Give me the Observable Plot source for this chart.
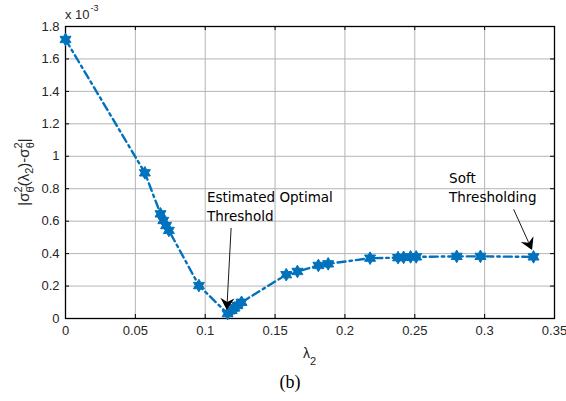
<!DOCTYPE html>
<html><head><meta charset="utf-8">
<script src="https://cdn.jsdelivr.net/npm/d3@7"></script>
<script src="https://cdn.jsdelivr.net/npm/@observablehq/plot@0.6"></script>
<style>
body{margin:0;background:#fff;}
#chart svg{display:block;}
#cap{width:566px;height:31px;font-family:"Liberation Serif","Times New Roman",serif;font-size:18px;line-height:24px;text-align:center;color:#000;position:relative;left:7px;}
</style>
</head><body>
<div id="chart"></div>
<div id="cap">(b)</div>
<script>
// data (y in units of 1e-3)
const lambda2 = [0, 0.0568, 0.068, 0.070, 0.072, 0.074, 0.0955, 0.116, 0.119, 0.121, 0.123, 0.126, 0.158, 0.166, 0.181, 0.188, 0.218, 0.238, 0.242, 0.247, 0.251, 0.280, 0.297, 0.335];
const absErr  = [1.72, 0.898, 0.645, 0.604, 0.573, 0.543, 0.203, 0.03, 0.05, 0.065, 0.08, 0.10, 0.27, 0.29, 0.327, 0.337, 0.372, 0.375, 0.377, 0.38, 0.38, 0.383, 0.383, 0.38];
const xTicks = [0, 0.05, 0.1, 0.15, 0.2, 0.25, 0.3, 0.35];
const yTicks = [0, 0.2, 0.4, 0.6, 0.8, 1, 1.2, 1.4, 1.6, 1.8];
// annotations (data units)
const noteLines = [["Estimated Optimal", "Threshold"], ["Soft", "Thresholding"]];
const noteX = [0.1016, 0.2749];
const noteY = [0.715, 0.832];
const arrowTailX = [0.1189, 0.3211];
const arrowTailY = [0.555, 0.670];
const arrowTipX = [0.1158, 0.3343];
const arrowTipY = [0.049, 0.419];

const data = lambda2.map((x, i) => ({x, y: absErr[i]}));
const blue = "#0072BD";
const W = 566, H = 370, mL = 65, mR = 12, mT = 26, mB = 52;
const pw = W - mL - mR, ph = H - mT - mB;

const hexagram = {
  draw(ctx, size) {
    const R = Math.sqrt(size / Math.PI) * 1.15, r = R / Math.sqrt(3);
    for (let k = 0; k < 12; k++) {
      const a = (k * 30 - 90) * Math.PI / 180, rr = k % 2 ? r : R;
      const px = rr * Math.cos(a), py = rr * Math.sin(a);
      k ? ctx.lineTo(px, py) : ctx.moveTo(px, py);
    }
    ctx.closePath();
  }
};

function decorations(index, scales) {
  const x = scales.x, y = scales.y;
  const g = d3.create("svg:g").attr("text-anchor", "start");
  // arrows
  for (let i = 0; i < arrowTipX.length; i++) {
    const x1 = x(arrowTailX[i]), y1 = y(arrowTailY[i]), x2 = x(arrowTipX[i]), y2 = y(arrowTipY[i]);
    const a = Math.atan2(y2 - y1, x2 - x1);
    g.append("line").attr("x1", x1).attr("y1", y1).attr("x2", x2 - 8 * Math.cos(a)).attr("y2", y2 - 8 * Math.sin(a))
      .attr("stroke", "#000").attr("stroke-width", 0.9);
    g.append("path").attr("d", "M0,0L-12,-7L-8,0L-12,7Z").attr("fill", "#000")
      .attr("transform", `translate(${x2},${y2}) rotate(${a * 180 / Math.PI})`);
  }
  // notes
  for (let i = 0; i < noteLines.length; i++) {
    const t = g.append("text").attr("text-anchor", "start").attr("font-family", "DejaVu Sans, Verdana, sans-serif").attr("font-size", 13.5).attr("fill", "#000");
    noteLines[i].forEach((s, j) => t.append("tspan").attr("x", x(noteX[i])).attr("y", y(noteY[i]) + j * 18.5).text(s));
  }
  // exponent
  const e = g.append("text").attr("text-anchor", "start").attr("x", mL).attr("y", 19).attr("font-family", "Liberation Sans, Arial, sans-serif").attr("font-size", 13).attr("fill", "#262626");
  e.append("tspan").text("x 10");
  e.append("tspan").attr("font-size", 9).attr("dy", -8).attr("dx", 1).text("-3");
  // x label
  const xl = g.append("text").attr("x", mL + pw / 2).attr("y", 358).attr("text-anchor", "middle").attr("font-family", "Liberation Sans, Arial, sans-serif").attr("font-size", 14).attr("fill", "#262626");
  xl.append("tspan").text("λ");
  xl.append("tspan").attr("font-size", 11).attr("dy", 7).text("2");
  // y label
  const yl = g.append("text").attr("transform", `translate(29,${mT + ph / 2}) rotate(-90)`).attr("text-anchor", "middle").attr("font-family", "Liberation Sans, Arial, sans-serif").attr("font-size", 15).attr("fill", "#262626");
  yl.append("tspan").text("|σ");
  yl.append("tspan").attr("font-size", 11).attr("dy", -7).text("2");
  yl.append("tspan").attr("font-size", 11).attr("dx", -6).attr("dy", 12).text("θ\u0302");
  yl.append("tspan").attr("dy", -5).text("(λ");
  yl.append("tspan").attr("font-size", 11).attr("dy", 4).text("2");
  yl.append("tspan").attr("dy", -4).text(")-σ");
  yl.append("tspan").attr("font-size", 11).attr("dy", -7).text("2");
  yl.append("tspan").attr("font-size", 11).attr("dx", -6).attr("dy", 12).text("θ");
  yl.append("tspan").attr("dy", -5).text("|");
  return g.node();
}

const chart = Plot.plot({
  width: W, height: H,
  marginLeft: mL, marginRight: mR, marginTop: mT, marginBottom: mB,
  style: {fontFamily: "Liberation Sans, Arial, sans-serif", fontSize: "13px", color: "#262626", background: "white"},
  x: {domain: [0, 0.35], label: null},
  y: {domain: [0, 1.8], label: null},
  marks: [
    Plot.gridX(xTicks, {stroke: "#b4b4b4", strokeOpacity: 1, strokeWidth: 1}),
    Plot.gridY(yTicks, {stroke: "#b4b4b4", strokeOpacity: 1, strokeWidth: 1}),
    Plot.axisX(xTicks, {tickSize: 0, tickPadding: 7, tickFormat: d => String(d), label: null, fill: "#262626"}),
    Plot.axisY(yTicks, {tickSize: 0, tickPadding: 6, tickFormat: d => String(d), label: null, fill: "#262626"}),
    Plot.tickX(xTicks, {stroke: "#000", insetTop: ph - 4}),
    Plot.tickX(xTicks, {stroke: "#000", insetBottom: ph - 4}),
    Plot.tickY(yTicks, {stroke: "#000", insetRight: pw - 4}),
    Plot.tickY(yTicks, {stroke: "#000", insetLeft: pw - 4}),
    Plot.frame({stroke: "#000", strokeWidth: 1.3}),
    Plot.line(data, {x: "x", y: "y", stroke: blue, strokeWidth: 2.4, strokeDasharray: "8,4,2.5,4"}),
    Plot.dot(data, {x: "x", y: "y", symbol: hexagram, r: 5.5, fill: blue, stroke: blue, strokeWidth: 1}),
    decorations
  ]
});
document.getElementById("chart").appendChild(chart);
</script>
</body></html>
